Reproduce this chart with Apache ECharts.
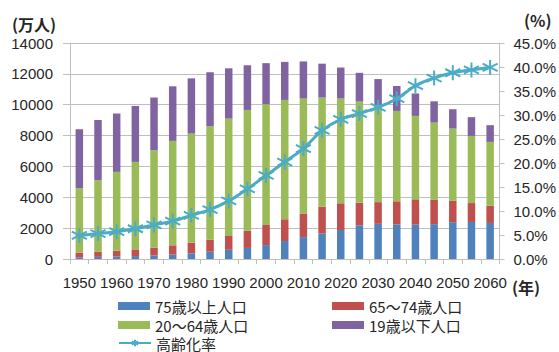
<!DOCTYPE html>
<html>
<head>
<meta charset="utf-8">
<script src="https://cdn.jsdelivr.net/npm/echarts@6/dist/echarts.min.js"></script>
<style>
  html, body { margin: 0; padding: 0; background: #ffffff; }
  #chart { width: 559px; height: 352px; }
</style>
</head>
<body>
<div id="chart"></div>
<script>
// Population by age group (万人) and ageing rate (%), 1950–2060 in 5-year steps
const years = ['1950','1955','1960','1965','1970','1975','1980','1985','1990','1995','2000','2005',
               '2010','2015','2020','2025','2030','2035','2040','2045','2050','2055','2060'];
const age75plus  = [107, 139, 163, 189, 224, 284, 366, 471, 597, 717, 901, 1164,
                    1419, 1646, 1879, 2179, 2278, 2245, 2223, 2257, 2385, 2401, 2336];
const age65to74  = [309, 336, 372, 435, 515, 603, 699, 776, 892, 1109, 1303, 1412,
                    1529, 1749, 1733, 1479, 1407, 1496, 1645, 1599, 1383, 1225, 1128];
const age20to64  = [4171, 4630, 5112, 5670, 6311, 6767, 7065, 7358, 7612, 7836, 7827, 7734,
                    7452, 7068, 6788, 6547, 6302, 5857, 5407, 4986, 4686, 4351, 4125];
const age19under = [3824, 3903, 3783, 3627, 3417, 3540, 3576, 3500, 3260, 2895, 2662, 2467,
                    2406, 2197, 2010, 1862, 1675, 1614, 1453, 1379, 1254, 1216, 1085];
const agingRate  = [4.9, 5.3, 5.7, 6.3, 7.1, 7.9, 9.1, 10.3, 12.1, 14.6, 17.4, 20.2,
                    23.0, 26.8, 29.1, 30.3, 31.6, 33.4, 36.1, 37.7, 38.8, 39.4, 39.9];

const seriesNames = ['75歳以上人口', '65～74歳人口', '20～64歳人口', '19歳以下人口', '高齢化率'];

const numFont = "'Liberation Sans', 'Noto Sans CJK JP', sans-serif";
const cjkFont = "'Noto Sans CJK JP', 'Liberation Sans', sans-serif";
const textColor = '#262626';
const gridColor = '#bfbfbf';

// asterisk marker: vertical stroke plus an X
const asterisk = 'path://M0,-10L0,10M-8.66,-5L8.66,5M-8.66,5L8.66,-5';

const chart = echarts.init(document.getElementById('chart'), null, { renderer: 'svg' });

// one legend box per entry, laid out in two columns
function legendEntry(name, left, top, isRect) {
  return {
    orient: 'horizontal', left: left, top: top, padding: 0,
    itemWidth: 32, itemHeight: 8,
    textStyle: { fontFamily: cjkFont, fontSize: 15, color: textColor, lineHeight: 16 },
    data: [isRect ? { name: name, icon: 'rect' } : { name: name }]
  };
}

chart.setOption({
  animation: false,
  backgroundColor: '#ffffff',
  grid: { left: 70, right: 57, top: 43, bottom: 93 },
  legend: [
    legendEntry(seriesNames[0], 118, 298, true),
    legendEntry(seriesNames[1], 332, 298, true),
    legendEntry(seriesNames[2], 118, 317, true),
    legendEntry(seriesNames[3], 332, 317, true),
    legendEntry(seriesNames[4], 118, 335, false)
  ],
  graphic: [
    { type: 'text', left: 12, top: 16,
      style: { text: '(万人)', font: "bold 16px 'Noto Sans CJK JP'", lineHeight: 15, fill: textColor } },
    { type: 'text', left: 524, top: 12,
      style: { text: '(%)', font: "bold 16px 'Noto Sans CJK JP'", lineHeight: 16, fill: textColor } },
    { type: 'text', left: 512, top: 279,
      style: { text: '(年)', font: "bold 16px 'Noto Sans CJK JP'", lineHeight: 16, fill: textColor } }
  ],
  xAxis: {
    type: 'category',
    data: years,
    axisLine: { lineStyle: { color: gridColor, width: 1 } },
    axisTick: { show: true, interval: 0, length: 5, lineStyle: { color: gridColor } },
    axisLabel: { interval: 1, margin: 16, fontFamily: numFont, fontSize: 15, color: textColor }
  },
  yAxis: [
    {
      type: 'value', min: 0, max: 14000, interval: 2000,
      axisLine: { show: true, lineStyle: { color: gridColor } },
      axisTick: { show: true, length: 7, inside: false, lineStyle: { color: gridColor } },
      splitLine: { show: true, lineStyle: { color: gridColor, width: 1 } },
      axisLabel: { margin: 17, fontFamily: numFont, fontSize: 15, color: textColor,
                   formatter: (v) => String(v) }
    },
    {
      type: 'value', min: 0, max: 45, interval: 5, position: 'right',
      axisLine: { show: true, lineStyle: { color: gridColor } },
      axisTick: { show: true, length: 5, lineStyle: { color: gridColor } },
      splitLine: { show: false },
      axisLabel: {
        margin: 14, fontFamily: numFont, fontSize: 15, color: textColor,
        formatter: (v) => v.toFixed(1) + '%'
      }
    }
  ],
  series: [
    { name: seriesNames[0], type: 'bar', stack: 'pop', barWidth: 7.5,
      itemStyle: { color: '#4f81bd' }, data: age75plus },
    { name: seriesNames[1], type: 'bar', stack: 'pop', barWidth: 7.5,
      itemStyle: { color: '#c0504d' }, data: age65to74 },
    { name: seriesNames[2], type: 'bar', stack: 'pop', barWidth: 7.5,
      itemStyle: { color: '#9bbb59' }, data: age20to64 },
    { name: seriesNames[3], type: 'bar', stack: 'pop', barWidth: 7.5,
      itemStyle: { color: '#8064a2' }, data: age19under },
    { name: seriesNames[4], type: 'line', yAxisIndex: 1, z: 5,
      smooth: 0.25,
      showSymbol: true, showAllSymbol: true,
      symbol: asterisk, symbolSize: 15,
      lineStyle: { color: '#4bacc6', width: 3 },
      itemStyle: { color: '#4bacc6', borderColor: '#4bacc6', borderWidth: 2 },
      data: agingRate }
  ]
});
</script>
</body>
</html>
